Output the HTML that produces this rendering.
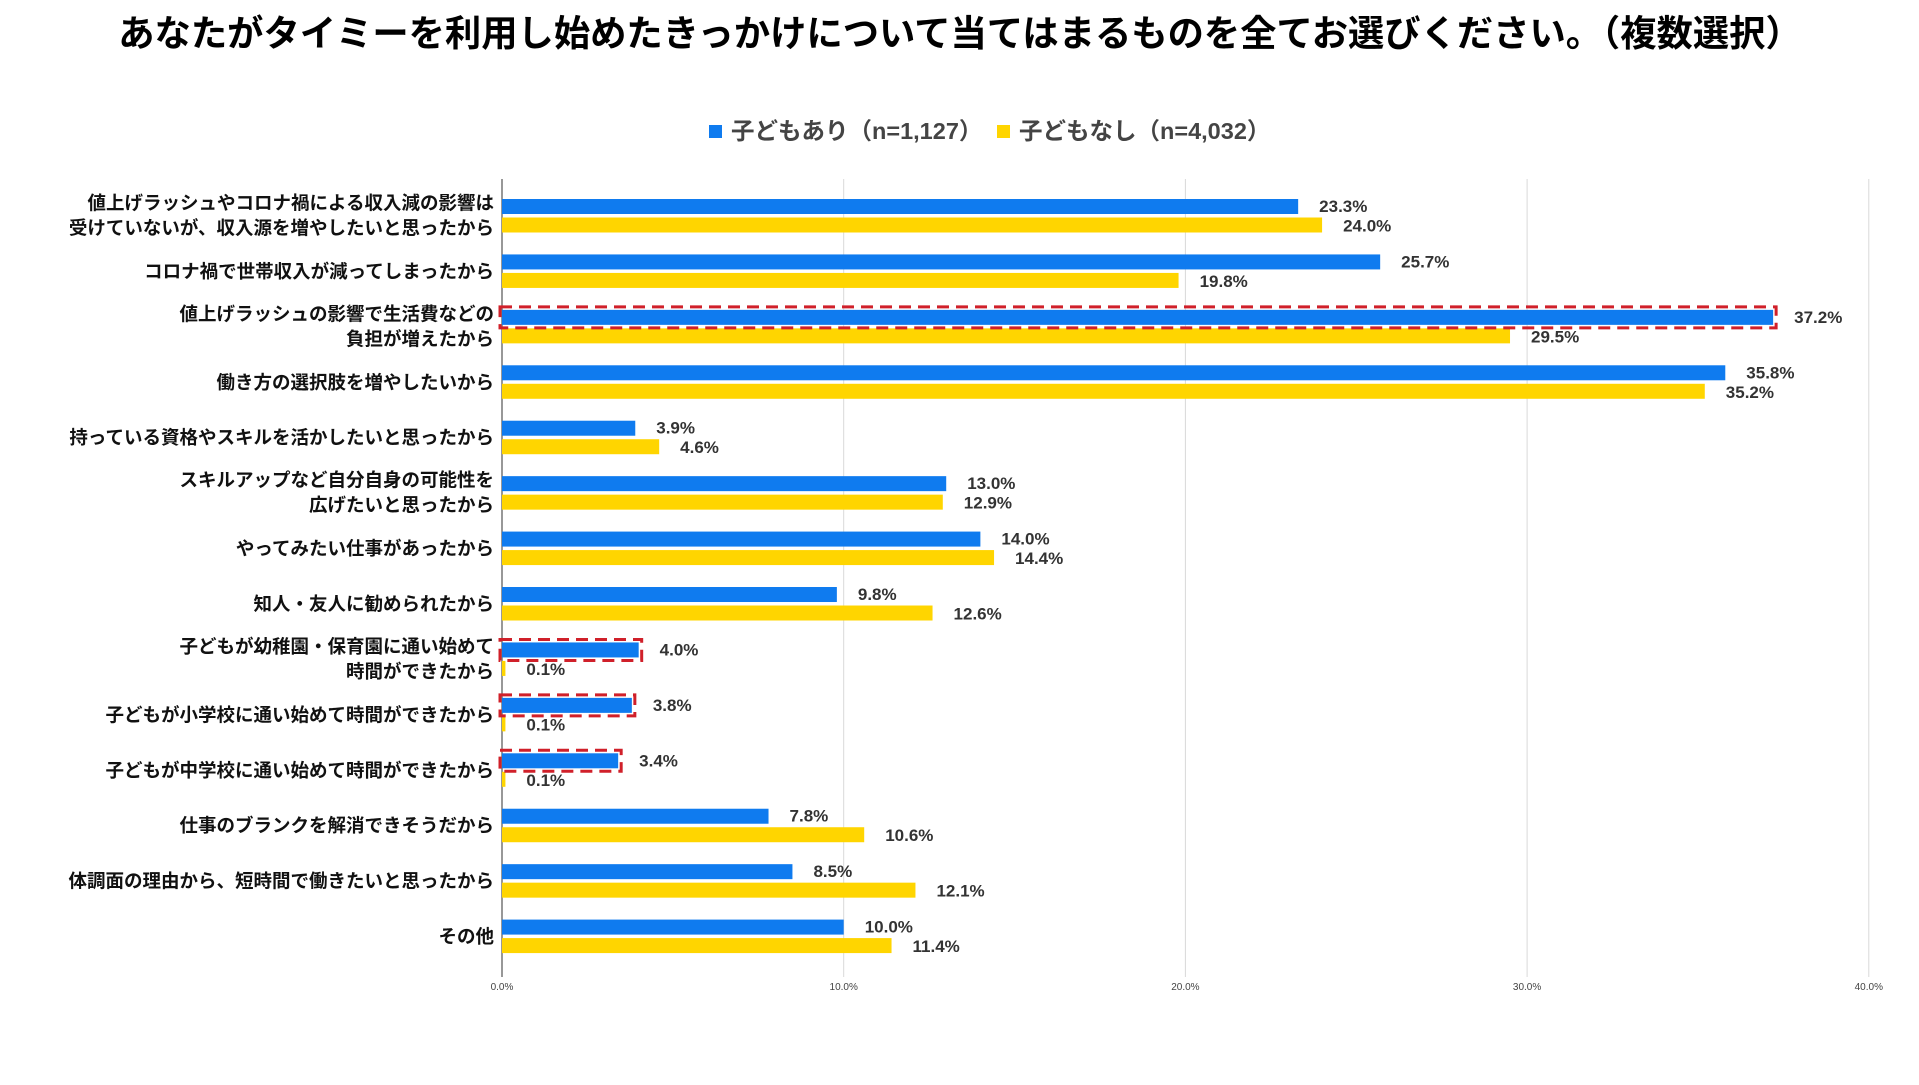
<!DOCTYPE html>
<html><head><meta charset="utf-8"><style>
html,body{margin:0;padding:0;background:#fff;}
body{width:1919px;height:1080px;overflow:hidden;font-family:"Liberation Sans","Noto Sans CJK JP",sans-serif;}
</style></head><body>
<svg id="chart" width="1919" height="1080" xmlns="http://www.w3.org/2000/svg" font-family="Liberation Sans, Noto Sans CJK JP, sans-serif">
<text x="960" y="46" text-anchor="middle" font-size="36.3" font-weight="bold" fill="#000">あなたがタイミーを利用し始めたきっかけについて当てはまるものを全てお選びください。（複数選択）</text>
<g>
<rect x="709" y="125" width="13" height="13" fill="#0f7bef"/>
<text x="731" y="139" font-size="23.5" font-weight="bold" fill="#444">子どもあり（n=1,127）</text>
<rect x="997" y="125" width="13" height="13" fill="#ffd500"/>
<text x="1019" y="139" font-size="23.5" font-weight="bold" fill="#444">子どもなし（n=4,032）</text>
</g>
<g id="plot"></g>
</svg>
<script>
const categories = [
 ["値上げラッシュやコロナ禍による収入減の影響は","受けていないが、収入源を増やしたいと思ったから"],
 ["コロナ禍で世帯収入が減ってしまったから"],
 ["値上げラッシュの影響で生活費などの","負担が増えたから"],
 ["働き方の選択肢を増やしたいから"],
 ["持っている資格やスキルを活かしたいと思ったから"],
 ["スキルアップなど自分自身の可能性を","広げたいと思ったから"],
 ["やってみたい仕事があったから"],
 ["知人・友人に勧められたから"],
 ["子どもが幼稚園・保育園に通い始めて","時間ができたから"],
 ["子どもが小学校に通い始めて時間ができたから"],
 ["子どもが中学校に通い始めて時間ができたから"],
 ["仕事のブランクを解消できそうだから"],
 ["体調面の理由から、短時間で働きたいと思ったから"],
 ["その他"]
];
const withChildren = [23.3,25.7,37.2,35.8,3.9,13.0,14.0,9.8,4.0,3.8,3.4,7.8,8.5,10.0];
const withoutChildren = [24.0,19.8,29.5,35.2,4.6,12.9,14.4,12.6,0.1,0.1,0.1,10.6,12.1,11.4];
const highlighted = [2,8,9,10];
const ticks = [0,10,20,30,40];
const tickLabels = ["0.0%","10.0%","20.0%","30.0%","40.0%"];

const NS="http://www.w3.org/2000/svg";
const g=document.getElementById('plot');
const X0=502, PER=34.17, TOP=179, BOT=977, ROW0=215.5, STEP=55.43, BH=15;
const x=v=>X0+v*PER;
const yc=i=>ROW0+i*STEP;
function mk(t,a){const e=document.createElementNS(NS,t);for(const k in a)e.setAttribute(k,a[k]);g.appendChild(e);return e;}
ticks.forEach((t,i)=>{
  if(t>0){const l=mk('line',{x1:x(t),x2:x(t),y1:TOP,y2:BOT,stroke:'#d9d9d9','stroke-width':1});
  
  }
  const tx=mk('text',{x:x(t),y:BOT+13,'text-anchor':'middle','font-size':10,fill:'#444'});
  tx.textContent=tickLabels[i];
  
  
});
const ax=mk('line',{x1:X0,x2:X0,y1:TOP,y2:BOT,stroke:'#777','stroke-width':1.5});


categories.forEach((c,i)=>{
  const cy=yc(i);
  const lt=mk('text',{x:494,'text-anchor':'end','font-size':18.5,'font-weight':'bold',fill:'#111'});
  
  
  if(c.length===1){lt.setAttribute('y',cy+7);lt.textContent=c[0];}
  else{c.forEach((s,j)=>{const ts=document.createElementNS(NS,'tspan');ts.setAttribute('x',494);ts.setAttribute('y',cy-6+j*25);ts.textContent=s;lt.appendChild(ts);});}
  const by=cy-9-BH/2, yy=cy+9.5-BH/2;
  const b=mk('rect',{x:X0,y:by,width:x(withChildren[i])-X0,height:BH,fill:'#0f7bef'});
  
  
  const yb=mk('rect',{x:X0,y:yy,width:Math.max(x(withoutChildren[i])-X0,1.5),height:BH,fill:'#ffd500'});
  
  
  const v1=mk('text',{x:x(withChildren[i])+21,y:by+13,'font-size':17,'font-weight':'bold',fill:'#333'});
  v1.textContent=withChildren[i].toFixed(1)+'%';
  
  
  const v2=mk('text',{x:x(withoutChildren[i])+21,y:yy+14,'font-size':17,'font-weight':'bold',fill:'#333'});
  v2.textContent=withoutChildren[i].toFixed(1)+'%';
  
  
  if(highlighted.includes(i)){
    const h=mk('rect',{x:X0-2,y:by-3,width:x(withChildren[i])-X0+5,height:BH+6,fill:'none',stroke:'#d0202a','stroke-width':3,'stroke-dasharray':'12 7'});
    
    
  }
});
</script>
</body></html>
